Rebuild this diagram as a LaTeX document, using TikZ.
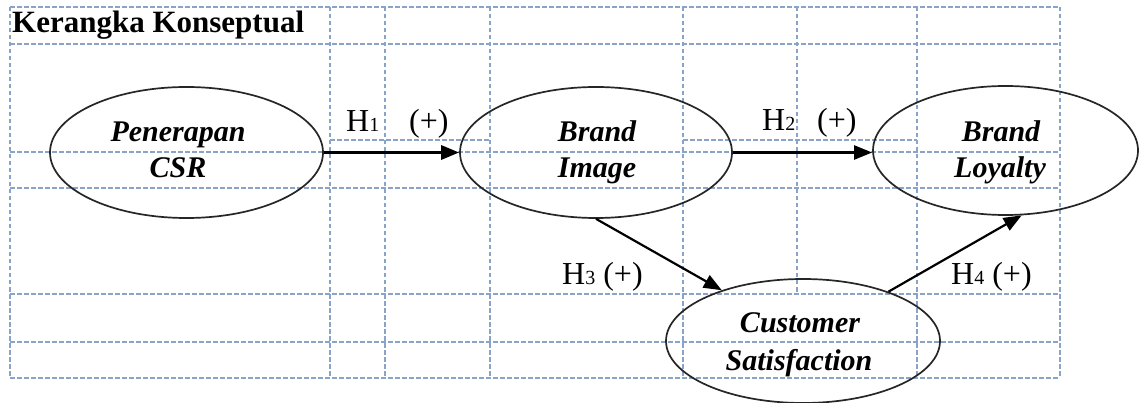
\documentclass[tikz,border=0pt]{standalone}
\usepackage{fontspec}
\setmainfont{Liberation Serif}
\usetikzlibrary{shapes.geometric,arrows.meta}
\definecolor{gridblue}{RGB}{138,163,200}
\newcommand\hsub[1]{{\fontsize{20}{20}\selectfont #1}}

\begin{document}
\begin{tikzpicture}[x=1pt,y=-1pt,
  grid/.style={draw=gridblue,line width=1.3pt,dash pattern=on 4.5pt off 2.5pt},
  construct/.style={draw=black!85,line width=1.7pt,ellipse,inner sep=0pt},
  nodetext/.style={font=\fontsize{30}{36}\selectfont\bfseries\itshape,anchor=base,inner sep=0pt},
  hyp/.style={font=\fontsize{32}{36}\selectfont,anchor=base west,inner sep=0pt},
  link/.style={draw=black,line width=2.2pt,-{Triangle[length=18pt,width=14pt]}}
]
\useasboundingbox (0,0) rectangle (1140,403);
\fill[white] (0,0) rectangle (1140,403);

% table grid
\foreach \y in {7,44,152,188,294,342,378}
  \draw[grid] (10,\y) -- (1060,\y);
\draw[grid] (330,140) -- (490,140);
\draw[grid] (683,140) -- (917,140);
\foreach \x in {10,330,385,490,683,917,1060}
  \draw[grid] (\x,7) -- (\x,378);
\draw[grid] (797,7) -- (797,294);

% title
\node[font=\fontsize{31}{36}\selectfont\bfseries,anchor=base west,inner sep=0pt] (title) at (12,33) {Kerangka Konseptual};

% constructs
\node[construct,minimum width=273pt,minimum height=131pt] (csr) at (186.5,152.5) {};
\node[construct,minimum width=272pt,minimum height=131pt] (img) at (596,152.5) {};
\node[construct,minimum width=265pt,minimum height=129pt] (loy) at (1005.5,150.5) {};
\node[construct,minimum width=274pt,minimum height=124pt] (cs) at (803,341) {};

\node[nodetext] (csrA) at (178,142) {Penerapan};
\node[nodetext] (csrB) at (178,178) {CSR};
\node[nodetext] (imgA) at (597,142) {Brand};
\node[nodetext] (imgB) at (597,178) {Image};
\node[nodetext] (loyA) at (1001,142) {Brand};
\node[nodetext] (loyB) at (1000,178) {Loyalty};
\node[nodetext] (csA) at (800,332) {Customer};
\node[nodetext] (csB) at (799,370) {Satisfaction};

% hypotheses
\draw[link,line width=3pt] (csr.east) -- (img.west);
\draw[link] (img.east) -- (img.east -| loy.west);
\draw[link] (img.south) -- (cs.148);
\draw[link] (cs.30) -- (loy.-76);

\node[hyp] (h1) at (346,132) {H\hsub{1}};
\node[hyp] (p1) at (409,132) {(+)};
\node[hyp] (h2) at (762,131) {H\hsub{2}};
\node[hyp] (p2) at (817,131) {(+)};
\node[hyp] (h3) at (562,285) {H\hsub{3} (+)};
\node[hyp] (h4) at (951,285) {H\hsub{4} (+)};
\end{tikzpicture}
\end{document}
